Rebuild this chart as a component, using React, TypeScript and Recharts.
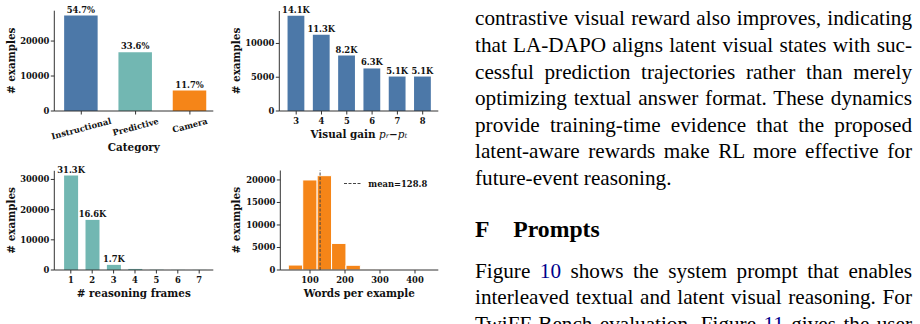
import React from "react";
import {
  BarChart,
  Bar,
  Cell,
  XAxis,
  YAxis,
  LabelList,
  ReferenceLine,
  Legend,
  Label,
} from "recharts";

// (a) split by category
const categories = ["Instructional", "Predictive", "Camera"];
const categoryCounts = [27300, 16770, 5840];
const categoryShares = ["54.7%", "33.6%", "11.7%"];
const categoryColors = ["#4c78a8", "#72b7b2", "#f58518"];

// (b) visual gain p_r - p_t
const gains = [3, 4, 5, 6, 7, 8];
const gainCounts = [14100, 11300, 8200, 6300, 5100, 5100];
const gainLabels = ["14.1K", "11.3K", "8.2K", "6.3K", "5.1K", "5.1K"];

// (c) number of reasoning frames
const frames = [1, 2, 3, 4, 5, 6, 7];
const frameCounts = [31300, 16600, 1700, 350, 90, 40, 30];
const frameLabels = ["31.3K", "16.6K", "1.7K", "", "", "", ""];

// (d) words per example, histogram bin centres
const wordBins = [58.6, 99.8, 141.0, 182.2, 223.4, 264.6, 305.8, 347.0, 388.2, 429.4];
const wordCounts = [1100, 20000, 20950, 5900, 1050, 150, 40, 15, 8, 4];
const meanWords = 128.8;

const yTicksA = [0, 10000, 20000];
const yTicksB = [0, 5000, 10000];
const yTicksC = [0, 10000, 20000, 30000];
const yTicksD = [0, 5000, 10000, 15000, 20000];
const xTicksD = [100, 200, 300, 400];

// text column next to the figure
const introLines = [
  "contrastive visual reward also improves, indicating",
  "that LA-DAPO aligns latent visual states with suc-",
  "cessful prediction trajectories rather than merely",
  "optimizing textual answer format. These dynamics",
  "provide training-time evidence that the proposed",
  "latent-aware rewards make RL more effective for",
  "future-event reasoning.",
];
const sectionNumber = "F";
const sectionTitle = "Prompts";
// odd entries are cross-reference links
const promptLines = [
  ["Figure ", "10", " shows the system prompt that enables"],
  ["interleaved textual and latent visual reasoning. For"],
  ["TwiFF-Bench evaluation, Figure ", "11", " gives the user"],
];

const dataA = categories.map((c, i) => ({ x: i, y: categoryCounts[i], label: categoryShares[i] }));
const dataB = gains.map((g, i) => ({ x: g, y: gainCounts[i], label: gainLabels[i] }));
const dataC = frames.map((f, i) => ({ x: f, y: frameCounts[i], label: frameLabels[i] }));
const dataD = wordBins.map((b, i) => ({ x: b, y: wordCounts[i] }));

const FONT = "'DejaVu Serif', serif";
const BODY_FONT = "'Liberation Serif', 'Times New Roman', serif";
const INK = "#111";
const SPINE = "#333";
const TICK_FS = 8.4;
const LABEL_FS = 10.4;
const BODY_FS = 21.2;

const tickStyle = { fontFamily: FONT, fontWeight: 700, fontSize: TICK_FS, fill: INK };

let measureCtx: CanvasRenderingContext2D | null = null;
function textWidth(s: string) {
  if (!measureCtx) measureCtx = document.createElement("canvas").getContext("2d");
  if (!measureCtx) return s.length * 5;
  measureCtx.font = `bold ${TICK_FS}px 'DejaVu Serif'`;
  return measureCtx.measureText(s).width;
}

// matplotlib-style rotated label (rotation=15, ha=center)
function SlantTick(props: any) {
  const { x, y, payload } = props;
  const text = categories[payload.value] ?? "";
  const a = (15 * Math.PI) / 180;
  const w = textWidth(text);
  const h = 9.6;
  const cy = y + (w * Math.sin(a) + h * Math.cos(a)) / 2;
  return (
    <text
      x={x}
      y={cy}
      transform={`rotate(-15 ${x} ${cy})`}
      textAnchor="middle"
      dominantBaseline="central"
      {...tickStyle}
    >
      {text}
    </text>
  );
}

function yLabel(cx: number) {
  return (
    <Label
      content={(p: any) => {
        const vb = p.viewBox;
        const cy = vb.y + vb.height / 2;
        return (
          <text
            x={cx}
            y={cy}
            transform={`rotate(-90 ${cx} ${cy})`}
            textAnchor="middle"
            dominantBaseline="central"
            fontFamily={FONT}
            fontWeight={700}
            fontSize={LABEL_FS}
            fill={INK}
          >
            # examples
          </text>
        );
      }}
    />
  );
}

function xLabel(cy: number, body: React.ReactNode) {
  return (
    <Label
      content={(p: any) => {
        const vb = p.viewBox;
        const cx = vb.x + vb.width / 2;
        return (
          <text
            x={cx}
            y={cy}
            textAnchor="middle"
            dominantBaseline="central"
            fontFamily={FONT}
            fontWeight={700}
            fontSize={LABEL_FS}
            fill={INK}
          >
            {body}
          </text>
        );
      }}
    />
  );
}

const axisCommon = {
  tickSize: 3.5,
  axisLine: { stroke: SPINE, strokeWidth: 1 },
  tickLine: { stroke: SPINE, strokeWidth: 1 },
};

const valueLabel = {
  position: "top" as const,
  offset: 3,
  fill: INK,
  fontFamily: FONT,
  fontWeight: 700,
  fontSize: TICK_FS,
};

function Panel({ left, top, children }: { left: number; top: number; children: React.ReactNode }) {
  return <div style={{ position: "absolute", left, top }}>{children}</div>;
}

export default function App() {
  return (
    <div
      style={{
        position: "absolute",
        left: 0,
        top: 0,
        width: 920,
        height: 324,
        overflow: "hidden",
        background: "#fff",
      }}
    >
      {/* (a) category */}
      <Panel left={0} top={0}>
        <BarChart width={230} height={160} data={dataA} margin={{ top: 10.7, right: 16.7, left: 0, bottom: 0 }}>
          <XAxis
            type="number"
            dataKey="x"
            domain={[-0.497, 2.431]}
            ticks={[0, 1, 2]}
            interval={0}
            height={49}
            tickMargin={1.5}
            tick={<SlantTick />}
            {...axisCommon}
          >
            {xLabel(147, "Category")}
          </XAxis>
          <YAxis
            type="number"
            domain={[0, 28680]}
            ticks={yTicksA}
            interval={0}
            width={54.3}
            tickMargin={1.5}
            tick={tickStyle}
            {...axisCommon}
          >
            {yLabel(11)}
          </YAxis>
          <Bar dataKey="y" barSize={33.5} isAnimationActive={false}>
            {dataA.map((d, i) => (
              <Cell key={d.x} fill={categoryColors[i]} />
            ))}
            <LabelList dataKey="label" {...valueLabel} />
          </Bar>
        </BarChart>
      </Panel>

      {/* (b) visual gain */}
      <Panel left={225} top={0}>
        <BarChart width={230} height={160} data={dataB} margin={{ top: 11, right: 16.7, left: 0, bottom: 0 }}>
          <XAxis
            type="number"
            dataKey="x"
            domain={[2.332, 8.617]}
            ticks={gains}
            interval={0}
            height={49}
            tickMargin={3.5}
            tick={tickStyle}
            {...axisCommon}
          >
            {xLabel(133.5, (
              <>
                Visual gain{" "}
                <tspan fontStyle="italic" fontWeight={400}>p</tspan>
                <tspan fontStyle="italic" fontWeight={400} fontSize={6.8} dy={2}>r</tspan>
                <tspan dy={-2}>{"\u2212"}</tspan>
                <tspan fontStyle="italic" fontWeight={400}>p</tspan>
                <tspan fontStyle="italic" fontWeight={400} fontSize={6.8} dy={2}>t</tspan>
              </>
            ))}
          </XAxis>
          <YAxis
            type="number"
            domain={[0, 14805]}
            ticks={yTicksB}
            interval={0}
            width={54.3}
            tickMargin={1.5}
            tick={tickStyle}
            {...axisCommon}
          >
            {yLabel(11)}
          </YAxis>
          <Bar dataKey="y" barSize={16.8} fill="#4c78a8" isAnimationActive={false}>
            <LabelList dataKey="label" {...valueLabel} />
          </Bar>
        </BarChart>
      </Panel>

      {/* (c) reasoning frames */}
      <Panel left={0} top={160}>
        <BarChart width={230} height={164} data={dataC} margin={{ top: 10.8, right: 16.7, left: 0, bottom: 0 }}>
          <XAxis
            type="number"
            dataKey="x"
            domain={[0.229, 7.659]}
            ticks={frames}
            interval={0}
            height={54}
            tickMargin={3.5}
            tick={tickStyle}
            {...axisCommon}
          >
            {xLabel(133, "# reasoning frames")}
          </XAxis>
          <YAxis
            type="number"
            domain={[0, 32865]}
            ticks={yTicksC}
            interval={0}
            width={54.3}
            tickMargin={1.5}
            tick={tickStyle}
            {...axisCommon}
          >
            {yLabel(11)}
          </YAxis>
          <Bar dataKey="y" barSize={14} fill="#72b7b2" isAnimationActive={false}>
            <LabelList dataKey="label" {...valueLabel} />
          </Bar>
        </BarChart>
      </Panel>

      {/* (d) words per example */}
      <Panel left={225} top={160}>
        <BarChart width={230} height={164} data={dataD} margin={{ top: 10.5, right: 16.7, left: 0, bottom: 0 }}>
          <XAxis
            type="number"
            dataKey="x"
            domain={[15.1, 466.6]}
            ticks={xTicksD}
            interval={0}
            height={54}
            tickMargin={3.5}
            tick={tickStyle}
            {...axisCommon}
          >
            {xLabel(133, "Words per example")}
          </XAxis>
          <YAxis
            type="number"
            domain={[0, 22100]}
            ticks={yTicksD}
            interval={0}
            width={55.3}
            tickMargin={1.5}
            tick={tickStyle}
            {...axisCommon}
          >
            {yLabel(11)}
          </YAxis>
          <Bar dataKey="y" barSize={14.4} fill="#f58518" stroke="#fff" strokeWidth={1} isAnimationActive={false} />
          <ReferenceLine x={meanWords} stroke="#444" strokeWidth={1} strokeDasharray="3 1.5" ifOverflow="visible" />
          <Legend
            layout="horizontal"
            verticalAlign="middle"
            align="center"
            wrapperStyle={{ left: 119, top: 16.5, width: 110, height: 13 }}
            content={() => (
              <svg width={110} height={13} style={{ display: "block" }}>
                <line x1={0} x2={17} y1={6.5} y2={6.5} stroke="#444" strokeWidth={1} strokeDasharray="3 1.5" />
                <text x={24.3} y={6.5} dominantBaseline="central" {...tickStyle}>
                  {`mean=${meanWords}`}
                </text>
              </svg>
            )}
          />
        </BarChart>
      </Panel>

      {/* body text */}
      <div
        style={{
          position: "absolute",
          left: 475,
          top: 5.4,
          width: 437,
          fontFamily: BODY_FONT,
          fontSize: BODY_FS,
          lineHeight: "26.6px",
          color: "#000",
        }}
      >
        {introLines.map((line, i) => (
          <div
            key={i}
            style={{
              textAlign: i < introLines.length - 1 ? "justify" : "left",
              textAlignLast: i < introLines.length - 1 ? "justify" : "left",
            }}
          >
            {line}
          </div>
        ))}
      </div>

      <div
        style={{
          position: "absolute",
          left: 475,
          top: 213.6,
          fontFamily: BODY_FONT,
          fontWeight: 700,
          fontSize: 23.7,
          lineHeight: "30px",
          color: "#000",
          whiteSpace: "nowrap",
        }}
      >
        <span>{sectionNumber}</span>
        <span style={{ position: "absolute", left: 38.3 }}>{sectionTitle}</span>
      </div>

      <div
        style={{
          position: "absolute",
          left: 475,
          top: 257.7,
          width: 437,
          fontFamily: BODY_FONT,
          fontSize: BODY_FS,
          lineHeight: "26.6px",
          color: "#000",
        }}
      >
        {promptLines.map((parts, i) => (
          <div key={i} style={{ textAlign: "justify", textAlignLast: "justify" }}>
            {parts.map((p, j) =>
              j % 2 === 1 ? (
                <span key={j} style={{ color: "#00008b" }}>
                  {p}
                </span>
              ) : (
                <span key={j}>{p}</span>
              )
            )}
          </div>
        ))}
      </div>
    </div>
  );
}
